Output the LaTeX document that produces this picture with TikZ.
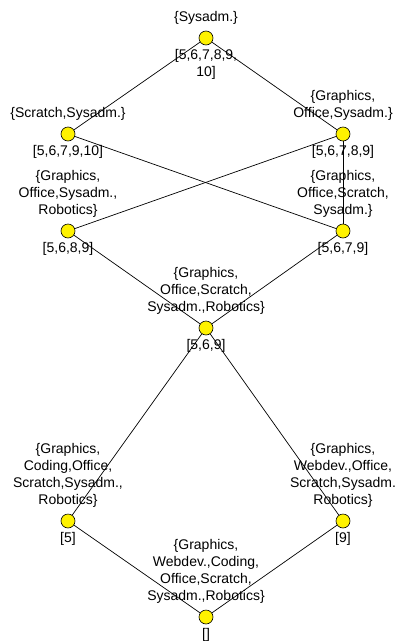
\documentclass[tikz,border=0pt]{standalone}
\usepackage{fontspec}
\setmainfont{Liberation Sans}
\usetikzlibrary{backgrounds}
\begin{document}
\begin{tikzpicture}[x=1pt,y=-1pt,
  concept/.style={circle,draw=black,fill=yellow,line width=0.6pt,minimum size=14pt,inner sep=0pt},
  intent/.style={anchor=south,inner sep=0pt,align=center,font=\fontsize{14}{17}\selectfont},
  extent/.style={anchor=north,inner sep=0pt,align=center,font=\fontsize{14}{17}\selectfont},
  edge/.style={draw=black,line width=0.7pt}]
\useasboundingbox (0,0) rectangle (398,643);

% concepts of the lattice
\node[concept] (top) at (206,38) {};
\node[concept] (l1)  at (68,134) {};
\node[concept] (r1)  at (343,134) {};
\node[concept] (l2)  at (68,231) {};
\node[concept] (r2)  at (343,231) {};
\node[concept] (m)   at (206,328) {};
\node[concept] (l3)  at (68,521) {};
\node[concept] (r3)  at (343,521) {};
\node[concept] (bot) at (206,617) {};

% attribute sets above the concepts
\node[intent] (top-i) at (206,25) {\{Sysadm.\}};
\node[intent] (l1-i) at (68,121) {\{Scratch,Sysadm.\}};
\node[intent] (r1-i) at (343,121) {\{Graphics,\\Office,Sysadm.\}};
\node[intent] (l2-i) at (68,218) {\{Graphics,\\Office,Sysadm.,\\Robotics\}};
\node[intent] (r2-i) at (343,218) {\{Graphics,\\Office,Scratch,\\Sysadm.\}};
\node[intent] (m-i) at (206,315) {\{Graphics,\\Office,Scratch,\\Sysadm.,Robotics\}};
\node[intent] (l3-i) at (68,508) {\{Graphics,\\Coding,Office,\\Scratch,Sysadm.,\\Robotics\}};
\node[intent] (r3-i) at (343,508) {\{Graphics,\\Webdev.,Office,\\Scratch,Sysadm.\\Robotics\}};
\node[intent] (bot-i) at (206,604) {\{Graphics,\\Webdev.,Coding,\\Office,Scratch,\\Sysadm.,Robotics\}};

% object sets below the concepts
\node[extent] (top-e) at (206,49) {[5,6,7,8,9,\\10]};
\node[extent] (l1-e) at (68,145) {[5,6,7,9,10]};
\node[extent] (r1-e) at (343,145) {[5,6,7,8,9]};
\node[extent] (l2-e) at (68,242) {[5,6,8,9]};
\node[extent] (r2-e) at (343,242) {[5,6,7,9]};
\node[extent] (m-e) at (206,339) {[5,6,9]};
\node[extent] (l3-e) at (68,532) {[5]};
\node[extent] (r3-e) at (343,532) {[9]};
\node[extent] (bot-e) at (206,628) {[]};

% order relation
\begin{scope}[on background layer]
\draw[edge] (top) -- (l1);
\draw[edge] (top) -- (r1);
\draw[edge] (l1) -- (r2);
\draw[edge] (r1) -- (l2);
\draw[edge] (r1) -- (r2);
\draw[edge] (l2) -- (m);
\draw[edge] (r2) -- (m);
\draw[edge] (m) -- (l3);
\draw[edge] (m) -- (r3);
\draw[edge] (l3) -- (bot);
\draw[edge] (r3) -- (bot);
\end{scope}
\end{tikzpicture}
\end{document}
